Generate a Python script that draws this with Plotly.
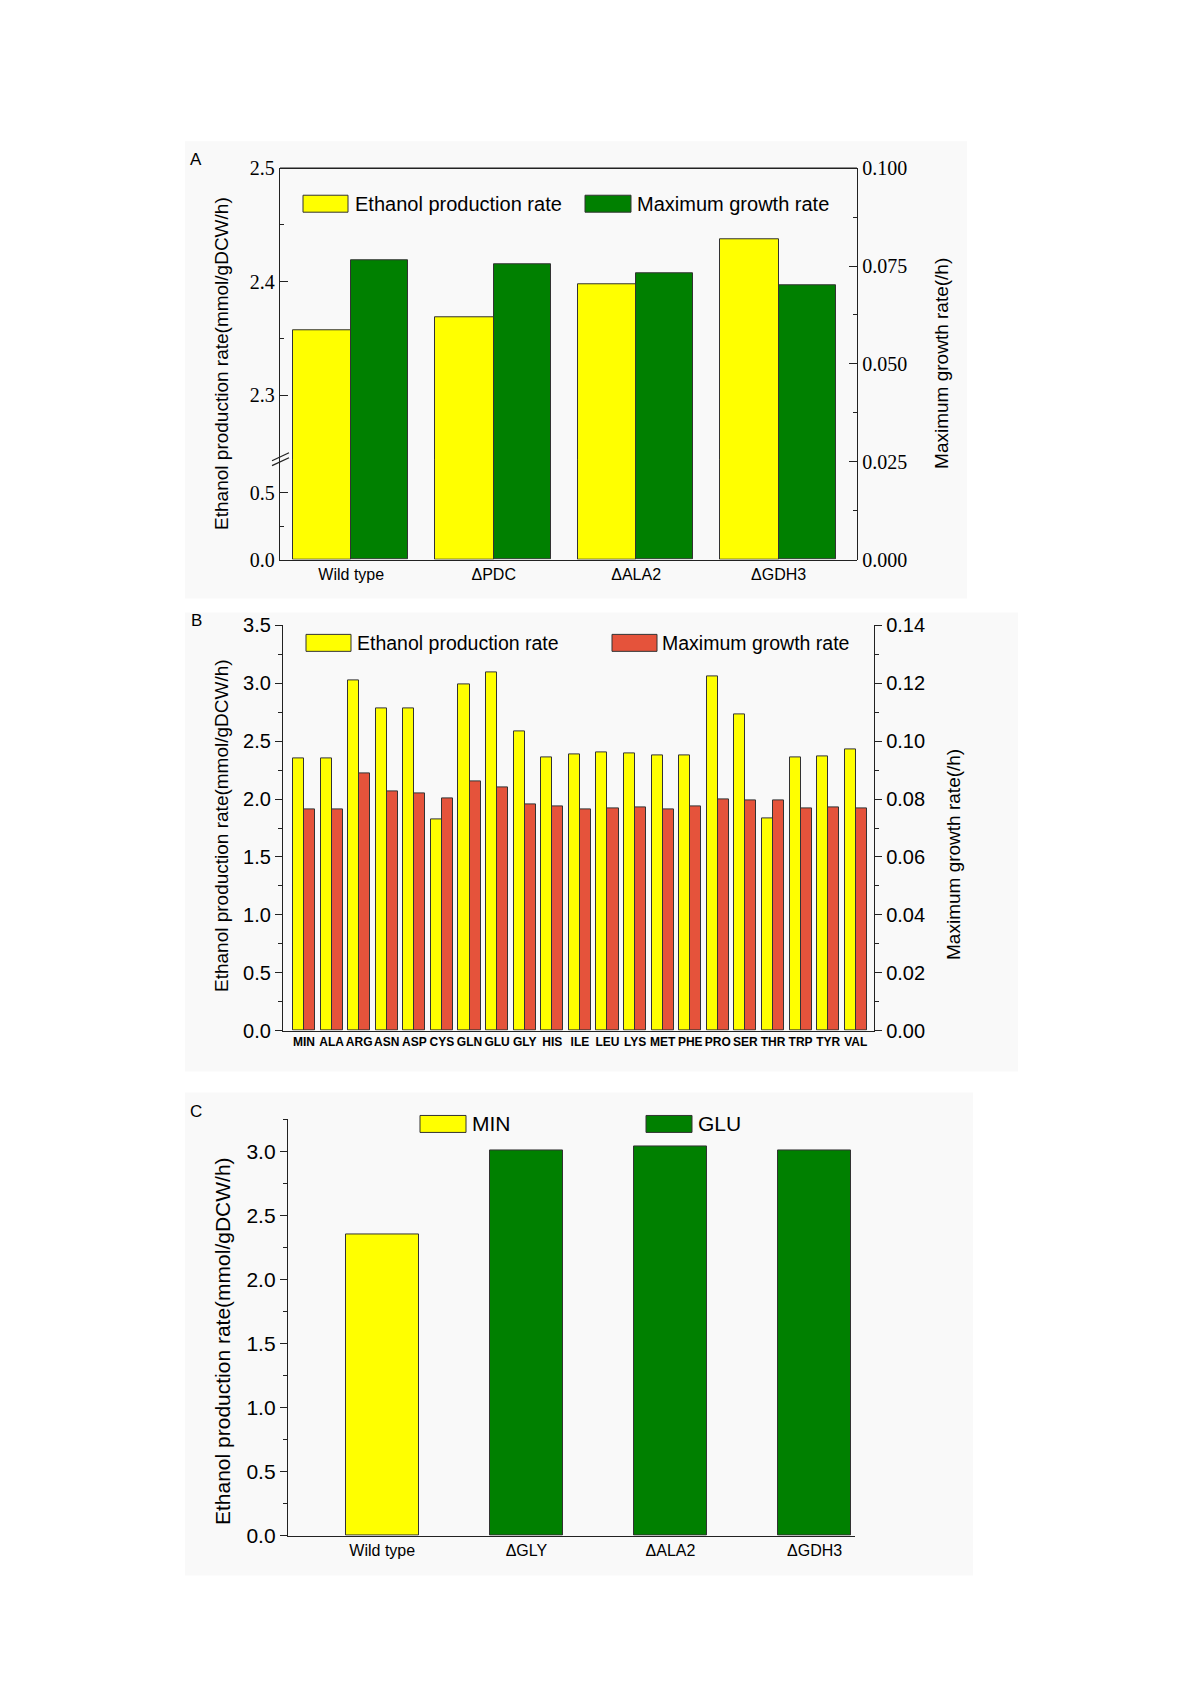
import plotly.graph_objects as go

W, H = 1200, 1697
YC, YS = 851.0, 1.0112  # vertical calibration of the layout grid


def px(x):
    return x / W


def py(y):
    return 1 - (YC + (y - YC) * YS) / H


# ---------------- data ----------------
# Panel A
a_categories = ["Wild type", "ΔPDC", "ΔALA2", "ΔGDH3"]
a_ethanol = [2.357, 2.369, 2.398, 2.437]
a_growth = [0.0765, 0.0755, 0.0731, 0.0701]

# Panel B
b_categories = ["MIN", "ALA", "ARG", "ASN", "ASP", "CYS", "GLN", "GLU", "GLY", "HIS", "ILE",
                "LEU", "LYS", "MET", "PHE", "PRO", "SER", "THR", "TRP", "TYR", "VAL"]
b_ethanol = [2.355, 2.355, 3.028, 2.781, 2.786, 1.828, 2.988, 3.092, 2.585, 2.357, 2.383,
             2.401, 2.398, 2.375, 2.375, 3.057, 2.735, 1.834, 2.357, 2.366, 2.427]
b_growth = [0.0764, 0.0764, 0.0888, 0.0825, 0.0821, 0.0804, 0.0861, 0.0842, 0.0783, 0.0775, 0.0766,
            0.0769, 0.0771, 0.0766, 0.0773, 0.0800, 0.0797, 0.0797, 0.0768, 0.0771, 0.0767]

# Panel C
c_min_categories = ["Wild type"]
c_min_ethanol = [2.358]
c_glu_categories = ["ΔGLY", "ΔALA2", "ΔGDH3"]
c_glu_ethanol = [3.013, 3.041, 3.013]
c_categories = c_min_categories + c_glu_categories

# ---------------- styles ----------------
YELLOW = "#FFFF00"
GREEN = "#008000"
RED = "#E5533B"
EDGE = "#333333"
SANS = "Liberation Sans, Arial, sans-serif"
NARROW = "Liberation Sans Narrow, Liberation Sans, Arial, sans-serif"
SERIF = "Liberation Serif, Times New Roman, serif"
AX = "#222222"

fig = go.Figure()

# ---- Panel A traces ----
for yax in ("y", "y2"):
    fig.add_trace(go.Bar(x=a_categories, y=a_ethanol, xaxis="x", yaxis=yax,
                         name="Ethanol production rate", marker=dict(color=YELLOW, line=dict(color=EDGE, width=1)),
                         width=0.41, offset=-0.41, showlegend=False))
fig.add_trace(go.Bar(x=a_categories, y=a_growth, xaxis="x", yaxis="y3",
                     name="Maximum growth rate", marker=dict(color=GREEN, line=dict(color=EDGE, width=1)),
                     width=0.40, offset=0.0, showlegend=False))

# ---- Panel B traces ----
fig.add_trace(go.Bar(x=b_categories, y=b_ethanol, xaxis="x2", yaxis="y4",
                     name="Ethanol production rate", marker=dict(color=YELLOW, line=dict(color=EDGE, width=1)),
                     width=0.40, offset=-0.40, showlegend=False))
fig.add_trace(go.Bar(x=b_categories, y=b_growth, xaxis="x2", yaxis="y5",
                     name="Maximum growth rate", marker=dict(color=RED, line=dict(color=EDGE, width=1)),
                     width=0.40, offset=0.0, showlegend=False))

# ---- Panel C traces ----
fig.add_trace(go.Bar(x=c_min_categories, y=c_min_ethanol, xaxis="x3", yaxis="y6",
                     name="MIN", marker=dict(color=YELLOW, line=dict(color=EDGE, width=1)),
                     width=0.506, offset=-0.253, showlegend=False))
fig.add_trace(go.Bar(x=c_glu_categories, y=c_glu_ethanol, xaxis="x3", yaxis="y6",
                     name="GLU", marker=dict(color=GREEN, line=dict(color=EDGE, width=1)),
                     width=0.506, offset=-0.253, showlegend=False))


def base_axis(**kw):
    d = dict(showline=True, linecolor=AX, linewidth=1.3, showgrid=False, zeroline=False,
             tickcolor=AX, tickwidth=1.3, fixedrange=True)
    d.update(kw)
    return d


layout = dict(
    width=W, height=H, margin=dict(l=0, r=0, t=0, b=0),
    paper_bgcolor="white", plot_bgcolor="rgba(0,0,0,0)",
    barmode="overlay", bargap=0,
    # Panel A
    xaxis=base_axis(domain=[px(280), px(857)], anchor="y", type="category",
                    categoryorder="array", categoryarray=a_categories, range=[-0.5, 3.55],
                    ticks="", tickfont=dict(family=NARROW, size=16, color="black"), tickangle=0),
    yaxis=base_axis(domain=[py(559), py(454)], anchor="x", range=[0, 0.787],
                    tickmode="array", tickvals=[0, 0.5], ticktext=["0.0", "0.5"],
                    ticks="inside", ticklen=8,
                    minor=dict(tickmode="array", tickvals=[0.25], ticks="inside", ticklen=4, tickcolor=AX),
                    tickfont=dict(family=SERIF, size=20, color="black")),
    yaxis2=base_axis(domain=[py(459), py(167)], anchor="x", range=[2.243, 2.5],
                     tickmode="array", tickvals=[2.3, 2.4, 2.5], ticktext=["2.3", "2.4", "2.5"],
                     ticks="inside", ticklen=8,
                     minor=dict(tickmode="array", tickvals=[2.35, 2.45], ticks="inside", ticklen=4, tickcolor=AX),
                     tickfont=dict(family=SERIF, size=20, color="black")),
    yaxis3=base_axis(domain=[py(559), py(167)], anchor="x", side="right", range=[0, 0.1],
                     tickmode="array", tickvals=[0, 0.025, 0.05, 0.075, 0.1],
                     ticktext=["0.000", "0.025", "0.050", "0.075", "0.100"],
                     ticks="inside", ticklen=8,
                     minor=dict(tickmode="array", tickvals=[0.0125, 0.0375, 0.0625, 0.0875],
                                ticks="inside", ticklen=4, tickcolor=AX),
                     tickfont=dict(family=SERIF, size=20, color="black")),
    # Panel B
    xaxis2=base_axis(domain=[px(283), px(874)], anchor="y4", type="category",
                     categoryorder="array", categoryarray=b_categories, range=[-0.76, 20.66],
                     ticks="", tickangle=0,
                     tickfont=dict(family=NARROW, size=12, color="black", weight="bold")),
    yaxis4=base_axis(domain=[py(1031), py(625)], anchor="x2", range=[0, 3.5],
                     tickmode="linear", tick0=0, dtick=0.5, tickformat=".1f",
                     ticks="outside", ticklen=7,
                     minor=dict(dtick=0.25, ticks="outside", ticklen=4, tickcolor=AX),
                     tickfont=dict(family=SANS, size=20, color="black")),
    yaxis5=base_axis(overlaying="y4", anchor="x2", side="right", range=[0, 0.14],
                     tickmode="linear", tick0=0, dtick=0.02, tickformat=".2f",
                     ticks="outside", ticklen=7,
                     minor=dict(dtick=0.01, ticks="outside", ticklen=4, tickcolor=AX),
                     tickfont=dict(family=SANS, size=20, color="black")),
    # Panel C
    xaxis3=base_axis(domain=[px(288), px(855)], anchor="y6", type="category",
                     categoryorder="array", categoryarray=c_categories, range=[-0.654, 3.28],
                     ticks="", tickangle=0, tickfont=dict(family=NARROW, size=16, color="black")),
    yaxis6=base_axis(domain=[py(1537), py(1120)], anchor="x3", range=[0, 3.254],
                     tickmode="linear", tick0=0, dtick=0.5, tickformat=".1f",
                     ticks="outside", ticklen=7,
                     minor=dict(dtick=0.25, ticks="outside", ticklen=4, tickcolor=AX),
                     tickfont=dict(family=SANS, size=21, color="black")),
)

shapes = []
# faint panel backgrounds
for (x0, y0, x1, y1) in [(185, 140, 967, 598), (185, 612, 1018, 1072), (185, 1093, 973, 1577)]:
    shapes.append(dict(type="rect", xref="paper", yref="paper", x0=px(x0), x1=px(x1), y0=py(y0), y1=py(y1),
                       fillcolor="#f9f9f9", line=dict(width=0), layer="below"))
# top frame of panel A
shapes.append(dict(type="line", xref="paper", yref="paper", x0=px(280), x1=px(857), y0=py(167), y1=py(167),
                   line=dict(color=AX, width=1.3)))
# axis-break marks on panel A
for dy in (0, 5):
    shapes.append(dict(type="line", xref="paper", yref="paper", x0=px(272), x1=px(289),
                       y0=py(460 + dy), y1=py(452 + dy), line=dict(color=AX, width=1.3)))

annotations = []


def legend_item(x0, y0, x1, y1, color, text, tx, size):
    shapes.append(dict(type="rect", xref="paper", yref="paper", x0=px(x0), x1=px(x1), y0=py(y1), y1=py(y0),
                       fillcolor=color, line=dict(color=EDGE, width=1)))
    annotations.append(dict(xref="paper", yref="paper", x=px(tx), y=py((y0 + y1) / 2), text=text,
                            showarrow=False, xanchor="left", yanchor="middle",
                            font=dict(family=SANS, size=size, color="black")))


legend_item(303, 194, 348, 211, YELLOW, "Ethanol production rate", 353, 20)
legend_item(585, 194, 631, 211, GREEN, "Maximum growth rate", 635, 20)
legend_item(306, 634, 351, 651, YELLOW, "Ethanol production rate", 355, 19.5)
legend_item(612, 634, 657, 651, RED, "Maximum growth rate", 660, 19.5)
legend_item(420, 1116, 466, 1133, YELLOW, "MIN", 470, 21)
legend_item(646, 1116, 692, 1133, GREEN, "GLU", 696, 21)


def rot_title(x, y, text, size):
    annotations.append(dict(xref="paper", yref="paper", x=px(x), y=py(y), text=text, textangle=-90,
                            showarrow=False, xanchor="center", yanchor="middle",
                            font=dict(family=SANS, size=size, color="black")))


rot_title(222, 363, "Ethanol production rate(mmol/gDCW/h)", 19)
rot_title(942, 363, "Maximum growth rate(/h)", 19)
rot_title(221, 826, "Ethanol production rate(mmol/gDCW/h)", 19)
rot_title(954, 855, "Maximum growth rate(/h)", 19)
rot_title(222, 1342, "Ethanol production rate(mmol/gDCW/h)", 21)

for (lx, ly, lt) in [(196, 158, "A"), (196, 620, "B"), (196, 1112, "C")]:
    annotations.append(dict(xref="paper", yref="paper", x=px(lx), y=py(ly), text=lt, showarrow=False,
                            xanchor="center", yanchor="middle", font=dict(family=SANS, size=17, color="black")))

layout["shapes"] = shapes
layout["annotations"] = annotations
fig.update_layout(**layout)

fig.write_html("out.html", config={"displayModeBar": False},
               post_script="document.body.style.margin='0';document.body.style.overflow='hidden';")
